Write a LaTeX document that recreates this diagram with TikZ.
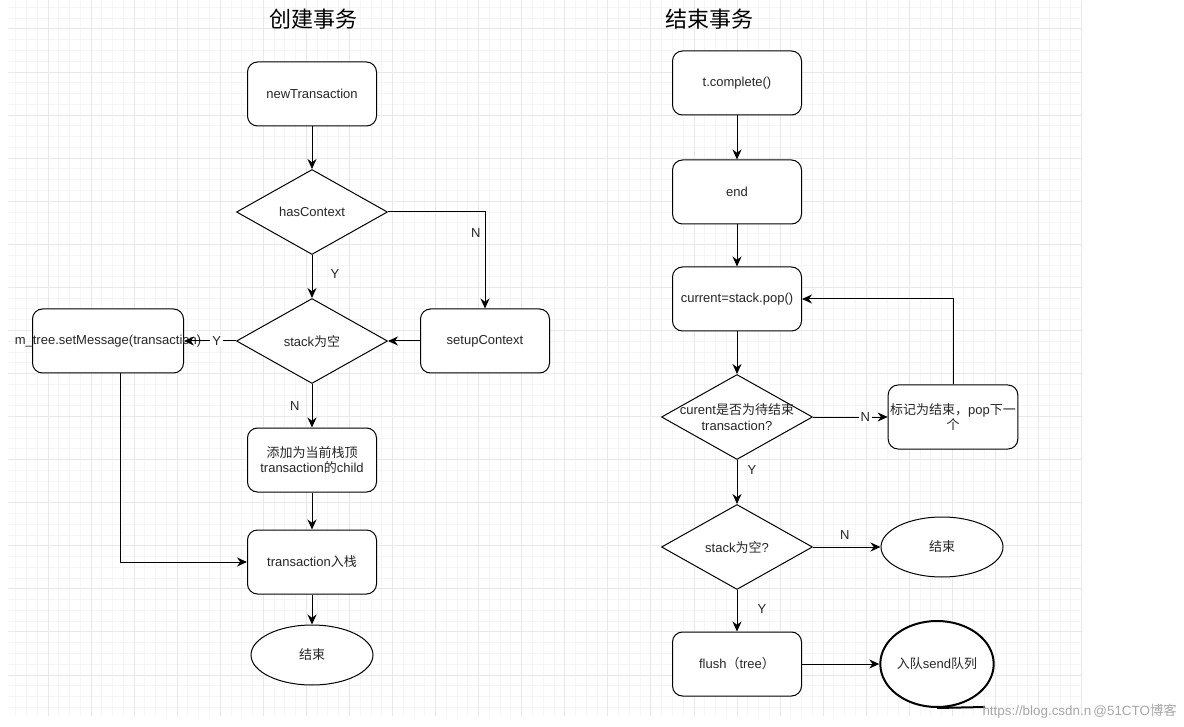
\documentclass[tikz,border=0pt]{standalone}
\usepackage{fontspec}
\setmainfont{Liberation Sans}
\newfontfamily\cjk{Noto Sans CJK SC}
\newcommand{\hz}[1]{{\cjk #1}}
\usetikzlibrary{positioning}
\usetikzlibrary{shapes.geometric}
\usetikzlibrary{arrows.meta}
\tikzstyle{procbox} = [draw, fill=white, rounded corners=5pt, minimum width=64.5pt, minimum height=32pt, align=center]
\tikzstyle{decnode} = [draw, fill=white, diamond, aspect=1.78, minimum width=75.5pt, minimum height=42.5pt, inner sep=0pt, align=center]
\tikzstyle{endnode} = [draw, fill=white, ellipse, minimum width=61pt, minimum height=30pt, inner sep=0pt]
\tikzstyle{lbl} = [inner sep=1pt]
\tikzstyle{flow} = [-{Stealth[length=5pt,width=4.5pt]}]
\tikzstyle{gridminor} = [line width=0.5pt, black!4]
\tikzstyle{gridmajor} = [line width=0.5pt, black!9]

\begin{document}
\begin{tikzpicture}[x=0.5pt, y=-0.5pt, line width=0.5pt,
    font=\fontsize{6.5}{7.8}\selectfont, text=black!85]
  \useasboundingbox (0,0) rectangle (1184,727);

  % background grid
  \foreach \k in {-3,...,96}
    \draw[gridminor] ({48+10.767*\k},0) -- ({48+10.767*\k},716);
  \foreach \k in {-2,...,63}
    \draw[gridminor] (8,{29+10.767*\k}) -- (1082,{29+10.767*\k});
  \foreach \k in {0,...,24}
    \draw[gridmajor] ({48+43.07*\k},0) -- ({48+43.07*\k},716);
  \foreach \k in {0,...,15}
    \draw[gridmajor] (8,{29+43.07*\k}) -- (1082,{29+43.07*\k});

  % create transaction
  \node[font=\fontsize{11}{13}\selectfont, text=black] (titleA) at (313,19) {\hz{创建事务}};
  \node[procbox] (newtx) at (312,94) {newTransaction};
  \node[decnode] (hasctx) at (312,212) {hasContext};
  \node[decnode] (stackempty) at (312,341) {stack\hz{为空}};
  \node[procbox, right=16pt of stackempty] (setupctx) {setupContext};
  \node[procbox, minimum width=75.5pt] (settree) at (108,341) {\makebox[0pt]{m\_tree.setMessage(transaction)}};
  \node[procbox] (addchild) at (312,460) {\hz{添加为当前栈顶}\\transaction\hz{的}child};
  \node[procbox] (pushtx) at (312,562) {transaction\hz{入栈}};
  \node[endnode] (endA) at (312,655) {\hz{结束}};

  \draw[flow] (newtx) -- (hasctx);
  \draw[flow] (hasctx) -- node[lbl, right=8pt, pos=0.45] {Y} (stackempty);
  \draw[flow] (hasctx.east) -| node[lbl, left=1pt, pos=0.61] {N} (setupctx.north);
  \draw[flow] (setupctx) -- (stackempty);
  \draw[flow] (stackempty) -- node[lbl, fill=white, pos=0.37] {Y} (settree);
  \draw[flow] (stackempty) -- node[lbl, left=5pt] {N} (addchild);
  \draw[flow] (addchild) -- (pushtx);
  \draw[flow] ([xshift=6pt]settree.south) |- (pushtx.west);
  \draw[flow] (pushtx) -- (endA);

  % end transaction
  \node[font=\fontsize{11}{13}\selectfont, text=black] (titleB) at (709,19) {\hz{结束事务}};
  \node[procbox] (tcomplete) at (737,83) {t.complete()};
  \node[procbox] (endcall) at (737,192) {end};
  \node[procbox] (pop) at (737,299) {current=stack.pop()};
  \node[decnode] (iscur) at (737,417) {\makebox[0pt]{curent\hz{是否为待结束}}\\\makebox[0pt]{transaction?}};
  \node[procbox, inner sep=1pt] (mark) at (953,417) {\hz{标记为结束，}pop\hz{下一}\\\hz{个}};
  \node[decnode] (stackq) at (737,547) {stack\hz{为空}?};
  \node[endnode] (endB) at (942,547) {\hz{结束}};
  \node[procbox] (flush) at (737,664) {flush\hz{（}tree\hz{）}};
  \node[endnode, line width=1pt, minimum width=49.5pt, minimum height=43pt] (enqueue) at (937,664) {\hz{入队}send\hz{队列}};
  \coordinate (tailend) at (985,707);

  \draw[flow] (tcomplete) -- (endcall);
  \draw[flow] (endcall) -- (pop);
  \draw[flow] (pop) -- (iscur);
  \draw[flow] (iscur) -- node[lbl, fill=white, pos=0.7] {N} (mark);
  \draw[flow] (mark.north) |- (pop.east);
  \draw[flow] (iscur) -- node[lbl, right=4pt, pos=0.22] {Y} (stackq);
  \draw[flow] (stackq) -- node[lbl, above=2.5pt, pos=0.47] {N} (endB);
  \draw[flow] (stackq) -- node[lbl, right=9pt, pos=0.47] {Y} (flush);
  \draw[flow] (flush) -- (enqueue);
  \draw[line width=1pt] (enqueue.south) -- (tailend);

  % watermark
  \node[text=black!35, anchor=south west, inner sep=0pt, font=\fontsize{6.7}{8}\selectfont] (mark2) at (982,719) {https://blog.csdn.n\,@51CTO\hz{博客}};
\end{tikzpicture}
\end{document}
